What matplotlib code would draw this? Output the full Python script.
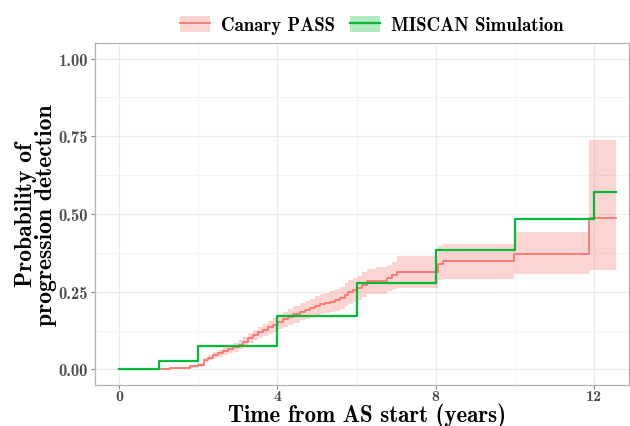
import matplotlib
matplotlib.use("Agg")
import matplotlib.pyplot as plt
from matplotlib.lines import Line2D
from matplotlib.patches import Patch

# Kaplan-Meier estimate for the Canary PASS cohort (step times, cumulative probability, 95% band)
pass_time = [0, 1.05, 1.3, 1.55, 1.8, 2.0, 2.15, 2.25, 2.38, 2.5, 2.63, 2.76, 2.89, 3.02,
             3.14, 3.27, 3.39, 3.52, 3.64, 3.77, 3.9, 4.02, 4.15, 4.28, 4.4, 4.57, 4.7,
             4.82, 4.95, 5.08, 5.2, 5.33, 5.45, 5.58, 5.7, 5.79, 5.9, 6.0, 6.13, 6.26,
             6.5, 6.76, 6.9, 7.01, 8.06, 8.18, 9.97, 11.87, 12.55]
pass_prob = [0, 0.002, 0.004, 0.006, 0.010, 0.014, 0.030, 0.038, 0.046, 0.052, 0.059,
             0.065, 0.071, 0.080, 0.089, 0.100, 0.111, 0.119, 0.127, 0.135, 0.143, 0.152,
             0.162, 0.170, 0.177, 0.186, 0.191, 0.197, 0.204, 0.210, 0.214, 0.218, 0.223,
             0.229, 0.240, 0.250, 0.255, 0.261, 0.272, 0.283, 0.286, 0.294, 0.303, 0.315,
             0.339, 0.348, 0.371, 0.487, 0.487]
pass_lower = [0, 0.001, 0.002, 0.003, 0.006, 0.008, 0.022, 0.029, 0.036, 0.041, 0.047,
              0.052, 0.057, 0.066, 0.074, 0.084, 0.095, 0.101, 0.108, 0.115, 0.122, 0.130,
              0.138, 0.144, 0.150, 0.158, 0.162, 0.167, 0.173, 0.178, 0.181, 0.184, 0.188,
              0.193, 0.203, 0.212, 0.216, 0.222, 0.232, 0.242, 0.244, 0.251, 0.259, 0.261,
              0.287, 0.290, 0.306, 0.319, 0.319]
pass_upper = [0, 0.003, 0.006, 0.009, 0.014, 0.020, 0.038, 0.047, 0.056, 0.063, 0.071,
              0.078, 0.085, 0.094, 0.104, 0.116, 0.127, 0.137, 0.146, 0.155, 0.164, 0.174,
              0.186, 0.196, 0.204, 0.214, 0.220, 0.227, 0.235, 0.242, 0.247, 0.252, 0.258,
              0.265, 0.277, 0.288, 0.294, 0.300, 0.312, 0.324, 0.328, 0.337, 0.347, 0.364,
              0.397, 0.403, 0.442, 0.739, 0.739]

# MISCAN model output, biennial biopsy schedule
sim_time = [0, 1, 2, 4, 6, 8, 10, 12, 12.55]
sim_prob = [0, 0.026, 0.077, 0.171, 0.277, 0.384, 0.484, 0.571, 0.571]

x_ticks = [0, 4, 8, 12]
y_ticks = [0.00, 0.25, 0.50, 0.75, 1.00]

RED = "#F8766D"
GREEN = "#00BA38"
FONT = "cmb10"

plt.rcParams["font.family"] = FONT
plt.rcParams["axes.unicode_minus"] = False

fig = plt.figure(figsize=(6.3, 4.27), dpi=100)
ax = fig.add_axes([95 / 630, 41 / 427, 534 / 630, 342 / 427])

ax.fill_between(pass_time, pass_lower, pass_upper, step="post",
                color=RED, alpha=0.3, linewidth=0)
ax.step(pass_time, pass_prob, where="post", color=RED, lw=1.3)
ax.step(sim_time, sim_prob, where="post", color=GREEN, lw=1.6)

ax.set_xlim(-0.606, 12.88)
ax.set_ylim(-0.05, 1.05)
ax.set_xticks(x_ticks)
ax.set_xticks([2, 6, 10], minor=True)
ax.set_yticks(y_ticks)
ax.set_yticks([0.125, 0.375, 0.625, 0.875], minor=True)
ax.set_yticklabels([f"{v:.2f}" for v in y_ticks])
ax.grid(True, which="major", color="#ebebeb", lw=0.9)
ax.grid(True, which="minor", color="#f3f3f3", lw=0.6)
ax.set_axisbelow(True)

ax.tick_params(which="major", length=3, width=0.8, color="#888888",
               labelcolor="#4d4d4d", labelsize=12, pad=2)
ax.tick_params(axis="x", which="major", labelsize=11.5, pad=0)
ax.tick_params(which="minor", length=0)
for s in ax.spines.values():
    s.set_color("#b3b3b3")
    s.set_linewidth(0.9)

# x title sits on a fixed baseline just under the tick labels
ax.set_xlabel("Time from AS start (years)", fontsize=16.5, va="baseline")
ax.xaxis.set_label_coords(0.509, -0.106)
ax.set_ylabel("Probability of\nprogression detection", fontsize=17,
              linespacing=0.9, labelpad=1)

handles = [
    (Patch(facecolor=RED, alpha=0.3, edgecolor="none"), Line2D([], [], color=RED, lw=1.3)),
    (Patch(facecolor=GREEN, alpha=0.3, edgecolor="none"), Line2D([], [], color=GREEN, lw=1.6)),
]
fig.legend(handles, ["Canary PASS", "MISCAN Simulation"], loc="center",
           bbox_to_anchor=(372 / 630, 1 - 26 / 427), ncol=2, frameon=False,
           fontsize=13.5, handlelength=1.6, handleheight=1.0,
           handletextpad=0.6, columnspacing=0.8)

fig.savefig("out.png", dpi=100)
